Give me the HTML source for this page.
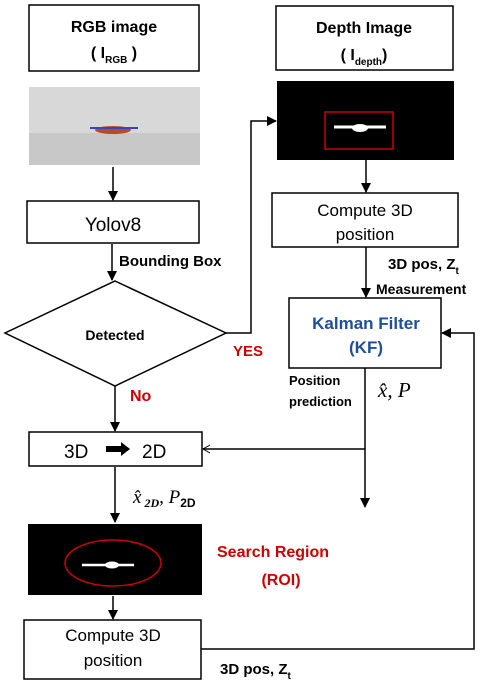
<!DOCTYPE html>
<html><head><meta charset="utf-8"><style>
body{margin:0;background:#fff}
svg{display:block;font-family:"Liberation Sans",sans-serif}
.b{font-weight:bold}
</style></head><body>
<svg width="486" height="689" viewBox="0 0 486 689">
<defs><marker id="a" markerWidth="10" markerHeight="10" refX="9" refY="5" orient="auto" markerUnits="userSpaceOnUse"><path d="M0,0 L10,5 L0,10 Z" fill="#000"/></marker>
<marker id="o" markerWidth="10" markerHeight="10" refX="8" refY="5" orient="auto" markerUnits="userSpaceOnUse"><path d="M1,1 L8,5 L1,9" fill="none" stroke="#000"/></marker></defs>
<g fill="none" stroke="#000" stroke-width="1.5">
<rect x="29" y="5" width="170" height="66"/>
<rect x="276" y="6" width="177" height="64"/>
<rect x="27" y="201" width="172" height="42"/>
<rect x="272" y="193" width="186" height="54"/>
<rect x="289" y="298" width="152" height="70"/>
<rect x="29" y="432" width="173" height="34"/>
<rect x="24" y="620" width="177" height="59"/>
<polygon points="115,281 226,333 115,386 5,333"/>
<line x1="113" y1="167" x2="113" y2="200" marker-end="url(#a)"/>
<line x1="112" y1="244" x2="112" y2="280" marker-end="url(#a)"/>
<polyline points="226,333 251,333 251,121 276,121" marker-end="url(#a)"/>
<line x1="366" y1="160" x2="366" y2="192" marker-end="url(#a)"/>
<line x1="366" y1="247" x2="366" y2="297" marker-end="url(#a)"/>
<polyline points="201,649 474,649 474,333 442,333" marker-end="url(#a)"/>
<line x1="365" y1="368" x2="365" y2="507" marker-end="url(#a)"/>
<line x1="365" y1="449" x2="203" y2="449" marker-end="url(#o)"/>
<line x1="115" y1="386" x2="115" y2="431" marker-end="url(#a)"/>
<line x1="115" y1="467" x2="115" y2="522" marker-end="url(#a)"/>
<line x1="113" y1="596" x2="113" y2="619" marker-end="url(#a)"/>
</g>
<rect x="29" y="87" width="171" height="46" fill="#d8d8d8"/>
<rect x="29" y="133" width="171" height="32" fill="#c8c8c8"/>
<ellipse cx="113" cy="130" rx="18" ry="4" fill="#b5501e"/>
<line x1="90" y1="128" x2="138" y2="128" stroke="#3344cc" stroke-width="2"/>
<rect x="277" y="81" width="177" height="79" fill="#000"/>
<rect x="325" y="112" width="68" height="37" fill="none" stroke="#c00" stroke-width="1.5"/>
<ellipse cx="360" cy="128" rx="8" ry="4" fill="#fff"/>
<line x1="334" y1="127" x2="386" y2="127" stroke="#fff" stroke-width="3"/>
<rect x="28" y="524" width="174" height="71" fill="#000"/>
<ellipse cx="113" cy="563" rx="48" ry="23" fill="none" stroke="#c00" stroke-width="1.5"/>
<ellipse cx="112" cy="565" rx="7" ry="3.5" fill="#fff"/>
<line x1="82" y1="565" x2="134" y2="565" stroke="#fff" stroke-width="2.5"/>
<g text-anchor="middle" font-size="16">
<text x="114" y="32" class="b">RGB image</text>
<text x="114" y="58" class="b">( I<tspan font-size="10" dy="5">RGB</tspan><tspan dy="-5"> )</tspan></text>
<text x="364" y="33" class="b">Depth Image</text>
<text x="364" y="60" class="b">( I<tspan font-size="10" dy="5">depth</tspan><tspan dy="-5">)</tspan></text>
<text x="113" y="231" font-size="19">Yolov8</text>
<text x="365" y="216" font-size="17">Compute 3D</text>
<text x="365" y="240" font-size="17">position</text>
<text x="366" y="329" class="b" fill="#1f4e9a" font-size="17">Kalman Filter</text>
<text x="366" y="353" class="b" fill="#1f4e9a" font-size="17">(KF)</text>
<text x="115" y="340" class="b" font-size="14">Detected</text>
<text x="113" y="641" font-size="17">Compute 3D</text>
<text x="113" y="666" font-size="17">position</text>
<text x="281" y="585" class="b" fill="#c00">(ROI)</text>
</g>
<text x="64" y="458" font-size="19">3D</text>
<path d="M106,446 h15 v-4 l9,7 l-9,7 v-4 h-15z" fill="#000"/>
<text x="142" y="458" font-size="19">2D</text>
<g class="b" font-size="15" font-weight="bold">
<text x="119" y="266">Bounding Box</text>
<text x="388" y="269">3D pos, Z<tspan font-size="10" dy="5">t</tspan></text>
<text x="376" y="294" font-size="14">Measurement</text>
<text x="233" y="356" fill="#c00">YES</text>
<text x="130" y="401" fill="#c00" font-size="16">No</text>
<text x="289" y="385" font-size="13">Position</text>
<text x="289" y="406" font-size="13">prediction</text>
<text x="217" y="557" fill="#c00" font-size="16">Search Region</text>
<text x="220" y="674">3D pos, Z<tspan font-size="10" dy="5">t</tspan></text>
</g>
<text x="378" y="397" font-family="Liberation Serif,serif" font-style="italic" font-size="21">x̂, P</text>
<text x="133" y="503" font-family="Liberation Serif,serif" font-style="italic" font-size="19">x̂<tspan font-size="12" font-weight="bold" dy="4"> 2D</tspan><tspan dy="-4">, P</tspan><tspan font-size="12" font-weight="bold" font-style="normal" font-family="Liberation Sans,sans-serif" dy="4">2D</tspan></text>
</svg>
</body></html>
